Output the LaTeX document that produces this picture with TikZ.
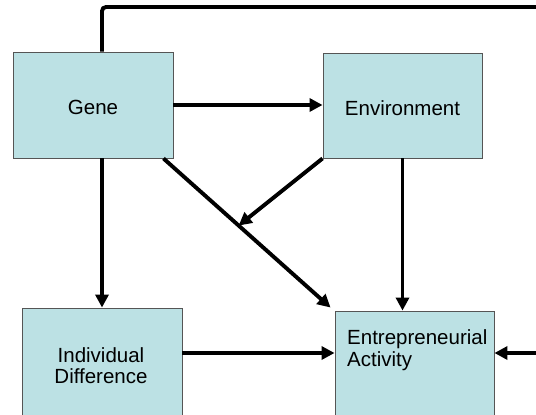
\documentclass[tikz,border=0pt]{standalone}
\usepackage{fontspec}
\setmainfont{Liberation Sans}
\usetikzlibrary{arrows.meta,calc}
\definecolor{boxfill}{HTML}{BCE1E4}
\definecolor{boxline}{HTML}{555555}
\tikzset{
  box/.style={draw=boxline, line width=0.9pt, fill=boxfill, inner sep=0pt},
  lbl/.style={inner sep=0pt, font=\fontsize{20.5}{22}\selectfont},
  conn/.style={line width=3.9pt, -{Triangle[length=13pt,width=13pt]}},
}
\begin{document}
\begin{tikzpicture}[x=1pt,y=-1pt]
\useasboundingbox (0,0) rectangle (536,415);
% boxes
\node[box, minimum width=160pt, minimum height=106pt] (G) at (93,105) {};
\node[box, minimum width=159pt, minimum height=105pt] (E) at (402.5,105.5) {};
\node[box, minimum width=160pt, minimum height=122pt] (ID) at (102,369) {};
\node[box, minimum width=159pt, minimum height=119pt] (EA) at (414.5,370.5) {};
% texts
\node[lbl, anchor=base] (Gt) at (93,114) {Gene};
\node[lbl, anchor=base] (Et) at (402.5,115) {Environment};
\node[lbl, anchor=north, align=center] (IDt) at (101,347.3) {Individual\\[-0.5pt]Difference};
\node[lbl, anchor=north west, align=left] (EAt) at (347,329.3) {Entrepreneurial\\[0.5pt]Activity};
% helper coordinates
\coordinate (tr) at (560,7);
\coordinate (br) at (560,353);
\coordinate (d1) at ([xshift=-10pt]G.south east);
\coordinate (d2) at ([shift={(-4,-3)}]EA.north west);
\coordinate (dm) at ($(d1)!0.45!(d2)$);
% connectors
\draw[conn] (G.east) -- (E.west |- G.east);
\draw[conn] (G.south -| ID.north) -- (ID.north);
\draw[conn] (d1) -- (d2);
\draw[conn] (E.south west) -- (dm);
\draw[conn] (E.south) -- (E.south |- EA.north);
\draw[conn] (ID.east |- br) -- (EA.west |- br);
\draw[conn, rounded corners=4pt] (ID.north |- G.north) |- (tr) -- (br) -- (EA.east |- br);
\end{tikzpicture}
\end{document}
